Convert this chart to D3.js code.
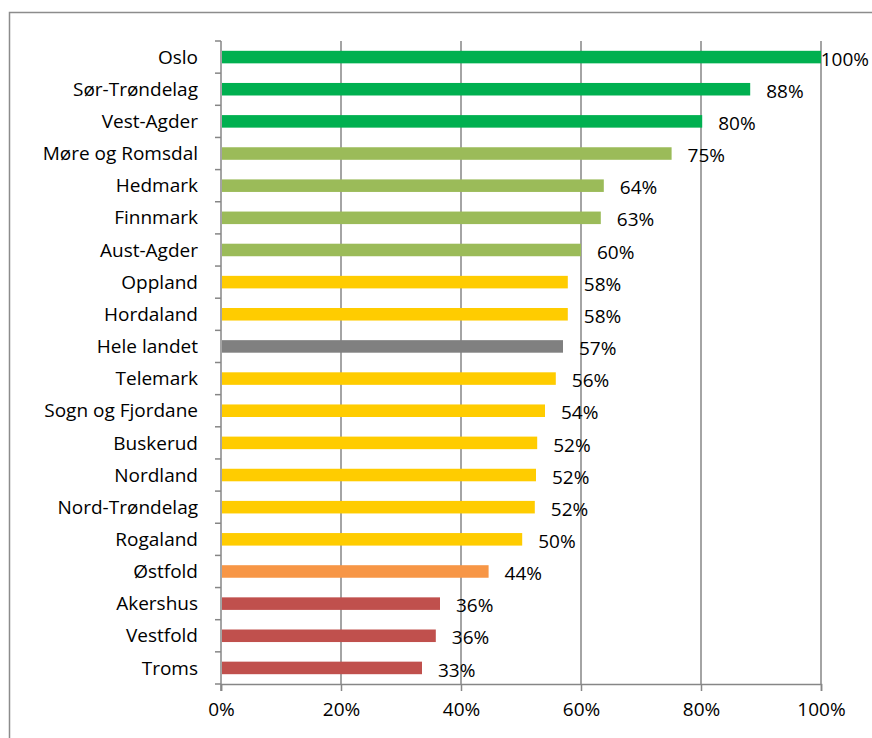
<!DOCTYPE html>
<html>
<head>
<meta charset="utf-8">
<script src="https://cdn.jsdelivr.net/npm/d3@7"></script>
<style>
  body { margin: 0; background: #fff; }
  text { font-family: "Open Sans", Lato, sans-serif; fill: #000; }
</style>
</head>
<body>
<script>
// fylker, sorted as in the chart
const counties = ["Oslo", "Sør-Trøndelag", "Vest-Agder", "Møre og Romsdal", "Hedmark", "Finnmark",
  "Aust-Agder", "Oppland", "Hordaland", "Hele landet", "Telemark", "Sogn og Fjordane", "Buskerud",
  "Nordland", "Nord-Trøndelag", "Rogaland", "Østfold", "Akershus", "Vestfold", "Troms"];
const values = [1.00, 0.882, 0.802, 0.751, 0.638, 0.633, 0.600, 0.578, 0.578, 0.570, 0.558, 0.540,
  0.527, 0.525, 0.523, 0.502, 0.446, 0.365, 0.358, 0.335];
const valueLabels = ["100%", "88%", "80%", "75%", "64%", "63%", "60%", "58%", "58%", "57%", "56%",
  "54%", "52%", "52%", "52%", "50%", "44%", "36%", "36%", "33%"];
const groups = ["high", "high", "high", "upper", "upper", "upper", "upper", "mid", "mid", "total", "mid",
  "mid", "mid", "mid", "mid", "mid", "lower", "low", "low", "low"];
const xTicks = [0, 0.2, 0.4, 0.6, 0.8, 1.0];

const groupColor = {
  high: "#00b050", upper: "#9bbb59", mid: "#ffcc00",
  total: "#808080", lower: "#f79646", low: "#c0504d"
};

const width = 872, height = 738;
const margin = {top: 41, right: 51, bottom: 54, left: 221};
const fs = 19;

const svg = d3.select("body").append("svg")
  .attr("width", width).attr("height", height);

// chart frame
svg.append("rect")
  .attr("x", 9.5).attr("y", 12.5)
  .attr("width", width + 20).attr("height", height + 20)
  .attr("fill", "none").attr("stroke", "#8c8c8c").attr("stroke-width", 1.5);

const x = d3.scaleLinear().domain([0, 1]).range([margin.left, width - margin.right]);
const y = d3.scaleBand().domain(counties)
  .range([margin.top, height - margin.bottom]).paddingInner(0.61).paddingOuter(0.305);

// gridlines
svg.append("g").selectAll("line").data(xTicks.slice(1)).join("line")
  .attr("x1", d => x(d)).attr("x2", d => x(d))
  .attr("y1", margin.top).attr("y2", height - margin.bottom)
  .attr("stroke", "#868686").attr("stroke-width", 1.5);

// x axis
const xAxis = svg.append("g")
  .attr("transform", `translate(0,${height - margin.bottom})`)
  .call(d3.axisBottom(x).tickValues(xTicks).tickFormat(d3.format(".0%")).tickSize(7).tickPadding(12));
xAxis.select(".domain").attr("stroke", "#868686").attr("stroke-width", 1.5);
xAxis.selectAll(".tick line").attr("stroke", "#868686").attr("stroke-width", 1.5);
xAxis.selectAll("text").attr("font-size", fs).attr("font-family", "'Open Sans', Lato, sans-serif");

// y axis, ticks between categories
const bandStep = y.step();
const yAxis = svg.append("g").attr("transform", `translate(${margin.left},0)`);
yAxis.append("line")
  .attr("x1", 0).attr("x2", 0)
  .attr("y1", margin.top).attr("y2", height - margin.bottom + 7)
  .attr("stroke", "#868686").attr("stroke-width", 1.5);
yAxis.selectAll(".sep").data(d3.range(counties.length + 1)).join("line")
  .attr("x1", -6).attr("x2", 0)
  .attr("y1", i => margin.top + i * bandStep).attr("y2", i => margin.top + i * bandStep)
  .attr("stroke", "#868686").attr("stroke-width", 1.5);
yAxis.selectAll(".lab").data(counties).join("text")
  .attr("x", -23)
  .attr("y", d => y(d) + y.bandwidth() / 2)
  .attr("dy", "0.35em")
  .attr("text-anchor", "end")
  .attr("font-size", fs)
  .text(d => d);

// bars
svg.append("g").selectAll("rect").data(counties).join("rect")
  .attr("x", x(0) + 1)
  .attr("y", d => y(d))
  .attr("width", (d, i) => x(values[i]) - x(0) - 1)
  .attr("height", y.bandwidth())
  .attr("fill", (d, i) => groupColor[groups[i]]);

// value labels, kept inside the chart frame
svg.append("g").selectAll("text").data(counties).join("text")
  .attr("y", d => y(d) + y.bandwidth() / 2 + 2)
  .attr("dy", "0.35em")
  .attr("font-size", fs)
  .text((d, i) => valueLabels[i])
  .attr("x", function(d, i) {
    const w = this.getComputedTextLength();
    return Math.min(x(values[i]) + 16, width - w - 3);
  });
</script>
</body>
</html>
